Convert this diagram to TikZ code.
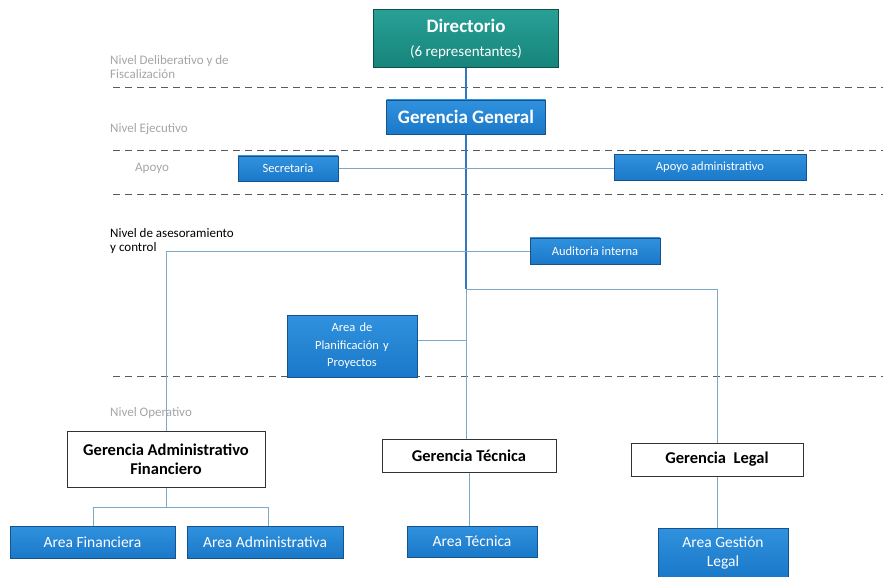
\documentclass[tikz,border=0pt]{standalone}
\usepackage{fontspec}
\setmainfont{Carlito}
\definecolor{boxblue}{RGB}{26,120,200}
\definecolor{boxbluetop}{RGB}{48,146,222}
\definecolor{boxblueedge}{RGB}{22,82,140}
\definecolor{teal1}{RGB}{22,132,122}
\definecolor{tealtop}{RGB}{40,160,150}
\definecolor{tealedge}{RGB}{14,80,76}
\definecolor{conn}{RGB}{125,168,200}
\definecolor{mainline}{RGB}{50,120,190}
\definecolor{lvl}{RGB}{165,165,165}
\definecolor{dashc}{RGB}{90,90,90}
\tikzset{
  bluebox/.style={draw=boxblueedge, line width=0.8pt, top color=boxbluetop, bottom color=boxblue, text=white, align=center, inner sep=2pt, font=\fontsize{12.5}{17.5}\selectfont},
  tealbox/.style={draw=tealedge, line width=1pt, top color=tealtop, bottom color=teal1, text=white, align=center, inner sep=2pt},
  whitebox/.style={draw=black!80, line width=1pt, fill=white, text=black, align=center, inner sep=2pt, font=\bfseries\fontsize{16.5}{19}\selectfont},
  areabox/.style={bluebox, font=\fontsize{15.5}{19}\selectfont},
  connline/.style={draw=conn, line width=0.8pt},
  mainl/.style={draw=mainline, line width=1.2pt},
  levelsep/.style={draw=dashc, line width=0.9pt, dash pattern=on 7pt off 5pt},
  lvltext/.style={anchor=west, text=lvl, font=\fontsize{13}{15}\selectfont, inner sep=0pt},
  asestext/.style={anchor=west, text=black, font=\fontsize{13}{15}\selectfont, inner sep=0pt},
}
\begin{document}
\begin{tikzpicture}[x=1pt,y=-1pt]
\useasboundingbox (0,0) rectangle (883,577);
% level separators
\draw[levelsep] (113,87) -- (883,87);
\draw[levelsep] (113,150) -- (883,150);
\draw[levelsep] (113,194) -- (883,194);
\draw[levelsep] (113,376) -- (883,376);
% level labels
\node[lvltext] (l1a) at (110,61) {Nivel Deliberativo y de};
\node[lvltext] (l1b) at (110,74) {Fiscalización};
\node[lvltext] (l2) at (110,129) {Nivel Ejecutivo};
\node[lvltext] (l3) at (135,168) {Apoyo};
\node[asestext] (l4a) at (110,233) {Nivel de asesoramiento};
\node[asestext] (l4b) at (110,248) {y control};
\node[lvltext] (l5) at (110,413) {Nivel Operativo};
% junctions
\coordinate (j1) at (466,251);
\coordinate (j2) at (466,289);
\coordinate (j3) at (166,507);
% connectors (drawn first, boxes on top)
\draw[mainl] (466,68) -- (466,100);
\draw[mainl] (466,134) -- (j2);
\draw[connline] (j2) -- (466,439);
\draw[connline] (338,168.5) -- (614,168.5);
\draw[connline] (j1) -- (530,251);
\draw[connline] (j1) -| (166,431);
\draw[connline] (j2) -| (717,443);
\draw[connline] (417,340) -- (466,340);
\draw[connline] (166,487) -- (j3);
\draw[connline] (j3) -| (93,526);
\draw[connline] (j3) -| (268,526);
\draw[connline] (469,472) -- (469,526);
\draw[connline] (717,476) -- (717,528);
% nodes
\node[tealbox, minimum width=185pt, minimum height=58pt, font=\fontsize{15}{24}\selectfont] (dir) at (466,39)
  {{\bfseries\fontsize{19}{24}\selectfont Directorio}\\(6 representantes)};
\node[bluebox, minimum width=159pt, minimum height=34pt, font=\bfseries\fontsize{19}{21}\selectfont] (gg) at (466,117) {Gerencia General};
\node[bluebox, minimum width=100pt, minimum height=25pt] (sec) at (288,168.5) {Secretaria};
\node[bluebox, minimum width=192pt, minimum height=26pt] (apo) at (710,167.5) {Apoyo administrativo};
\node[bluebox, minimum width=130pt, minimum height=26pt] (aud) at (595,251) {Auditoria interna};
\node[bluebox, minimum width=130pt, minimum height=62pt, text width=110pt] (plan) at (352,346) {Area de\\Planificación y\\Proyectos};
\node[whitebox, minimum width=198pt, minimum height=56pt] (gaf) at (166,459) {Gerencia Administrativo\\Financiero};
\node[whitebox, minimum width=174pt, minimum height=33pt] (gt) at (469,455.5) {Gerencia Técnica};
\node[whitebox, minimum width=172pt, minimum height=33pt] (gl) at (717,459.5) {Gerencia\ \ Legal};
\node[areabox, minimum width=165pt, minimum height=32pt] (af) at (92.5,542) {Area Financiera};
\node[areabox, minimum width=156pt, minimum height=32pt] (aa) at (265,542) {Area Administrativa};
\node[areabox, minimum width=130pt, minimum height=31pt] (at) at (472,541.5) {Area Técnica};
\node[areabox, minimum width=130pt, minimum height=49pt] (agl) at (723,552.5) {Area Gestión\\Legal};
\end{tikzpicture}
\end{document}
